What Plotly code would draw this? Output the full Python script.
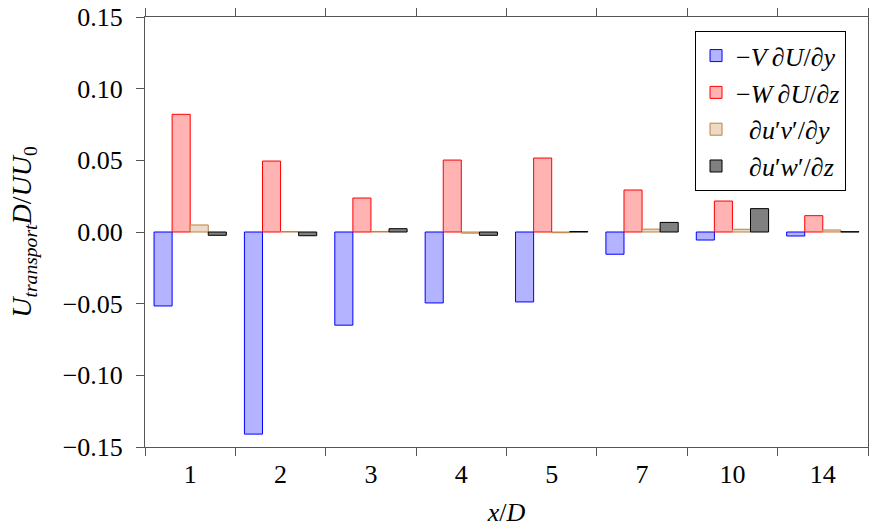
import plotly.graph_objects as go

categories = ["1", "2", "3", "4", "5", "7", "10", "14"]
v_dudy = [-0.0516, -0.141, -0.065, -0.0495, -0.0488, -0.0155, -0.0056, -0.0028]
w_dudz = [0.0821, 0.0495, 0.0237, 0.0502, 0.0516, 0.0293, 0.0216, 0.0114]
uv_dy = [0.0049, 0.0003, 0.0004, -0.0008, -0.0005, 0.0020, 0.0019, 0.0014]
uw_dz = [-0.0023, -0.0026, 0.0023, -0.0023, 0.0003, 0.0067, 0.0163, 0.0002]

names = ["−<i>V</i>\u2009∂<i>U</i>/∂<i>y</i>", "−<i>W</i>\u2009∂<i>U</i>/∂<i>z</i>",
         "\u2002∂<i>u</i>′<i>v</i>′/∂<i>y</i>", "\u2002∂<i>u</i>′<i>w</i>′/∂<i>z</i>"]
fills = ["rgb(179,179,255)", "rgb(255,179,179)", "rgb(236,217,198)", "rgb(128,128,128)"]
lines = ["rgb(0,0,255)", "rgb(255,0,0)", "rgb(191,128,64)", "rgb(0,0,0)"]
series = [v_dudy, w_dudz, uv_dy, uw_dz]

FONT = "Liberation Serif, DejaVu Serif, serif"

fig = go.Figure()
for n, s, f, l in zip(names, series, fills, lines):
    fig.add_trace(go.Bar(x=categories, y=s, name=n,
                         marker=dict(color=f, line=dict(color=l, width=1))))

fig.update_layout(
    width=870, height=529,
    margin=dict(l=145, r=2, t=17, b=82),
    paper_bgcolor="white", plot_bgcolor="white",
    barmode="group", bargap=0.2, bargroupgap=0,
    font=dict(family=FONT, size=26, color="black"),
    legend=dict(x=0.9696, y=0.967, xanchor="right", yanchor="top",
                bordercolor="black", borderwidth=1, bgcolor="white",
                font=dict(family=FONT, size=26), tracegroupgap=0,
                itemwidth=30),
    xaxis=dict(type="category", range=[-0.5, 7.5], tickson="boundaries",
               ticks="outside", ticklen=8, tickcolor="#555", tickwidth=1,
               showline=True, linecolor="#555", linewidth=1, mirror="ticks",
               showgrid=False, zeroline=False, ticklabelstandoff=4,
               title=dict(text="<i>x</i>/<i>D</i>", standoff=14,
                          font=dict(family=FONT, size=26)),
               tickfont=dict(family=FONT, size=26)),
    yaxis=dict(range=[-0.15, 0.15], tickvals=[-0.15, -0.10, -0.05, 0, 0.05, 0.10, 0.15],
               tickformat=".2f", ticks="outside", ticklen=8, tickcolor="#555",
               tickwidth=1, showline=True, linecolor="#555", linewidth=1, mirror=True,
               showgrid=False, zeroline=False, ticklabelstandoff=8,
               title=dict(text="<i>U</i><sub><i>transport</i></sub><i>D</i>/<i>UU</i><sub>0</sub>",
                          standoff=22, font=dict(family=FONT, size=28)),
               tickfont=dict(family=FONT, size=26)),
)

fig.write_html("out.html")
